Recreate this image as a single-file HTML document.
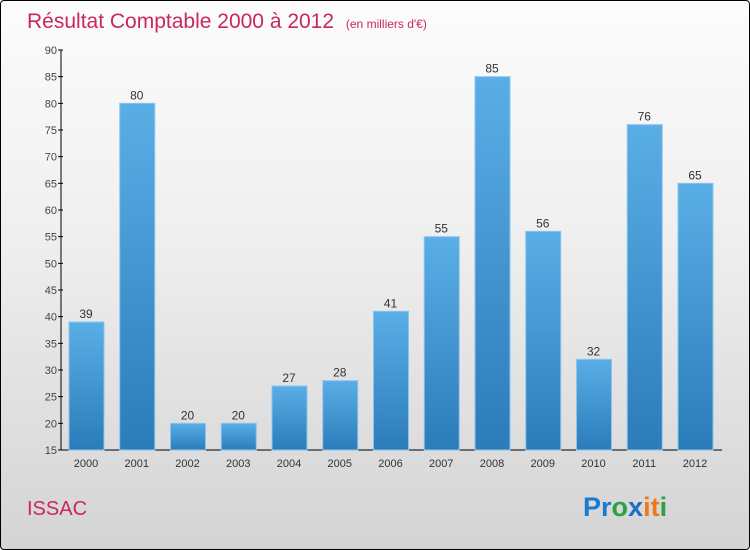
<!DOCTYPE html>
<html><head><meta charset="utf-8"><style>
body{margin:0}
#c{width:748px;height:548px;border:1px solid #000;border-radius:4px;background:linear-gradient(#fcfcfc,#f0f0f0 40%,#d4d4d4);position:relative;overflow:hidden;font-family:"Liberation Sans",sans-serif}
</style></head><body>
<div id="c">
<svg width="748" height="548" id="svg">
<defs><linearGradient id="g" x1="0" y1="0" x2="0" y2="1"><stop offset="0" stop-color="#5aaee6"/><stop offset="1" stop-color="#2b7cba"/></linearGradient></defs>
<text x="26" y="27" font-size="21" fill="#c8285a">Résultat Comptable 2000 à 2012 <tspan font-size="12" dx="6">(en milliers d'€)</tspan></text>
<text x="26" y="514" font-size="20" fill="#c8285a">ISSAC</text>
<text x="582" y="515" font-size="27" font-weight="bold"><tspan fill="#1a7ad0">Pr</tspan><tspan fill="#2ea040">o</tspan><tspan fill="#1a6ec8">x</tspan><tspan fill="#f07818">it</tspan><tspan fill="#2ea040">i</tspan></text>
<g id="axes"></g><g id="bars"></g>
</svg>
</div>
<script>
const years=["2000","2001","2002","2003","2004","2005","2006","2007","2008","2009","2010","2011","2012"];
const values=[39,80,20,20,27,28,41,55,85,56,32,76,65];
const ticks=[15,20,25,30,35,40,45,50,55,60,65,70,75,80,85,90];
const NS="http://www.w3.org/2000/svg";
const y0=449,y1=49,vmin=15,vmax=90;
const y=v=>y0-(v-vmin)/(vmax-vmin)*(y0-y1);
const xc=i=>85+i*50.75;
function mk(t,a,p){const e=document.createElementNS(NS,t);for(const k in a)e.setAttribute(k,a[k]);p.appendChild(e);return e;}
const ax=document.getElementById('axes'),bg=document.getElementById('bars');
let l=mk('line',{x1:60,y1:y1,x2:60,y2:y0,stroke:'#000'},ax);


l=mk('line',{x1:60,y1:y0,x2:721,y2:y0,stroke:'#000'},ax);


ticks.forEach(t=>{
 mk('line',{x1:57,x2:62,y1:y(t),y2:y(t),stroke:'#000'},ax);
 const tx=mk('text',{x:56,y:y(t)+4,'text-anchor':'end','font-size':11,fill:'#444'},ax);
 tx.textContent=t;
 
 
});
years.forEach((yr,i)=>{
 const v=values[i],cx=xc(i);
 const r=mk('rect',{x:cx-17,y:y(v),width:35,height:y0-y(v),fill:'url(#g)',stroke:'#8cc4ec','stroke-width':1},bg);
 
 
 const vl=mk('text',{x:cx,y:y(v)-4,'text-anchor':'middle','font-size':12,fill:'#333'},bg);
 vl.textContent=v;
 
 
 const xl=mk('text',{x:cx,y:466,'text-anchor':'middle','font-size':11,fill:'#333'},bg);
 xl.textContent=yr;
 
 
});
</script>
</body></html>
